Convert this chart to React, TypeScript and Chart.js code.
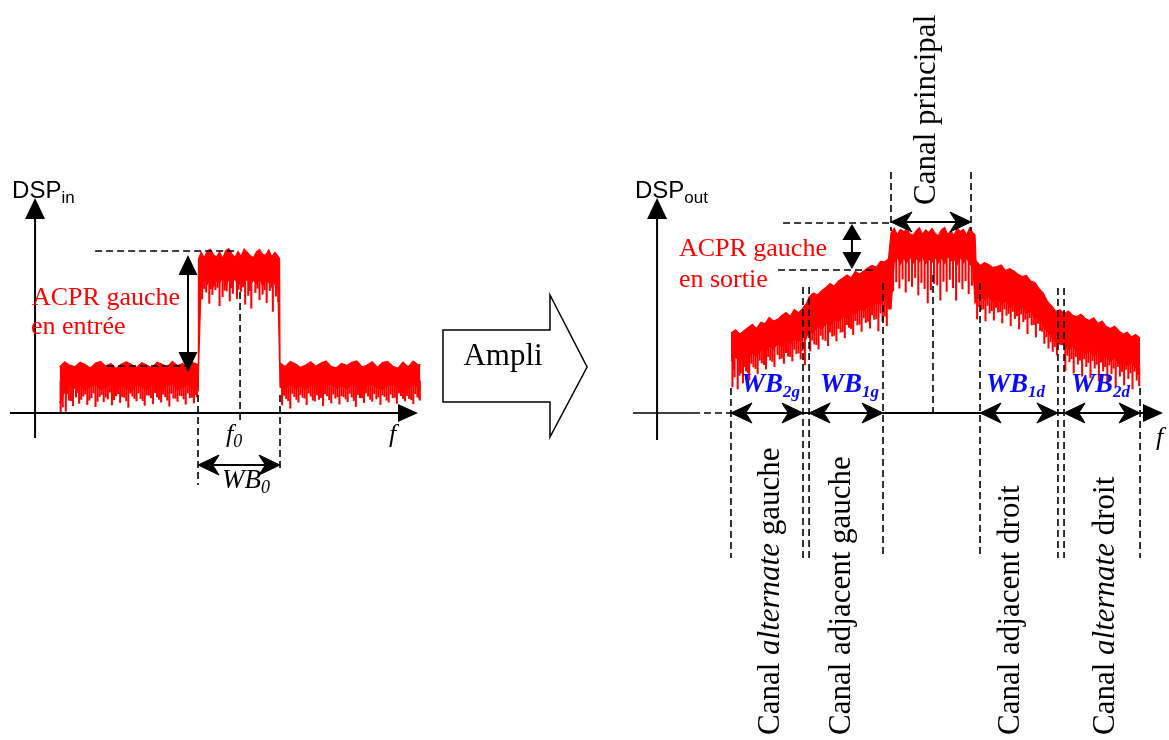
import React, { useEffect, useRef } from "react";
import { Chart, registerables } from "chart.js";

Chart.register(...registerables);

// ================= DATA =================
// Frequencies are offsets from f0 (arbitrary units, WB0 = main channel = 4 units).
// Levels are in dB (0 dB = top of the input channel). Each tuple: [f, upper edge, lower bulk edge].

// ---- Input PSD ----
const inFloorLeft: [number, number, number][] = [
  [-8.75, -28.5, -37.5], [-8.5, -27.2, -34.6], [-8.25, -28.1, -33.1], [-8.0, -28.4, -33.9],
  [-7.75, -27.3, -32.8], [-7.5, -27.9, -34.4], [-7.25, -28.8, -33.3], [-7.0, -27.5, -32.9],
  [-6.75, -27.1, -34.1], [-6.5, -28.3, -33.6], [-6.25, -27.6, -32.7], [-6.0, -28.9, -34.3],
  [-5.75, -27.8, -33.0], [-5.5, -27.2, -33.8], [-5.25, -27.9, -34.5], [-5.0, -28.6, -32.9],
  [-4.75, -27.4, -33.4], [-4.5, -28.0, -34.2], [-4.25, -28.7, -32.8], [-4.0, -27.3, -33.7],
  [-3.75, -27.8, -34.0], [-3.5, -28.5, -33.1], [-3.25, -27.1, -32.8], [-3.0, -28.2, -34.3],
  [-2.75, -27.6, -33.5], [-2.5, -28.8, -32.9], [-2.25, -27.4, -34.0], [-2.0, -27.9, -34.5],
];
const inChannel: [number, number, number][] = [
  [-1.98, -1.5, -30.0], [-1.85, 0.2, -8.0], [-1.7, -1.2, -6.5], [-1.55, 0.5, -7.8],
  [-1.4, 0.9, -6.2], [-1.25, -0.4, -8.4], [-1.1, -1.0, -6.8], [-0.95, 0.3, -7.5],
  [-0.8, -1.4, -6.0], [-0.65, 0.6, -8.0], [-0.5, 1.1, -6.6], [-0.35, -0.2, -7.9],
  [-0.2, -1.1, -6.3], [-0.05, 0.4, -8.2], [0.1, -0.9, -6.9], [0.25, 1.0, -7.6],
  [0.4, 0.2, -6.4], [0.55, -0.6, -8.1], [0.7, -1.2, -6.7], [0.85, 0.3, -7.7],
  [1.0, 0.9, -6.1], [1.15, -0.3, -8.3], [1.3, -0.6, -6.8], [1.45, 0.8, -7.4],
  [1.6, -1.0, -6.5], [1.75, 0.2, -7.9], [1.9, -0.8, -9.0], [1.98, -1.5, -28.0],
];
const inFloorRight: [number, number, number][] = [
  [2.0, -27.5, -33.5], [2.25, -28.4, -34.0], [2.5, -27.1, -32.8], [2.75, -27.7, -33.9],
  [3.0, -28.6, -33.1], [3.25, -28.0, -34.2], [3.5, -27.2, -32.9], [3.75, -28.3, -33.6],
  [4.0, -27.5, -34.3], [4.25, -27.0, -33.0], [4.5, -28.4, -32.7], [4.75, -28.7, -33.8],
  [5.0, -27.6, -33.2], [5.25, -28.1, -34.0], [5.5, -27.3, -32.9], [5.75, -27.0, -33.5],
  [6.0, -28.5, -34.1], [6.25, -28.0, -33.1], [6.5, -27.2, -32.8], [6.75, -28.6, -33.7],
  [7.0, -27.4, -34.2], [7.25, -27.1, -33.0], [7.5, -28.3, -32.9], [7.75, -28.8, -33.6],
  [8.0, -27.3, -33.2], [8.25, -28.5, -34.0], [8.5, -27.0, -33.0], [8.75, -28.0, -33.5],
  [8.85, -27.8, -33.8],
];
// Noise dips: [f, bottom of dip, top of dip]
const inDips: [number, number, number][] = [
  [-8.7, -40, -32], [-8.6, -38.5, -32], [-8.45, -39.6, -32], [-8.3, -36.8, -32], [-8.1, -38.2, -32],
  [-7.95, -36.0, -32], [-7.8, -37.6, -32], [-7.6, -35.8, -32], [-7.4, -37.9, -32], [-7.2, -36.2, -32],
  [-7.0, -38.4, -32], [-6.8, -35.9, -32], [-6.6, -37.2, -32], [-6.4, -36.5, -32], [-6.2, -38.0, -32],
  [-6.0, -35.7, -32], [-5.8, -37.4, -32], [-5.6, -36.1, -32], [-5.4, -38.6, -32], [-5.2, -35.8, -32],
  [-5.0, -37.0, -32], [-4.8, -36.4, -32], [-4.6, -38.1, -32], [-4.4, -35.6, -32], [-4.2, -37.7, -32],
  [-4.0, -36.0, -32], [-3.8, -37.3, -32], [-3.6, -35.9, -32], [-3.4, -38.3, -32], [-3.2, -36.3, -32],
  [-3.0, -37.1, -32], [-2.8, -35.7, -32], [-2.6, -37.8, -32], [-2.4, -36.2, -32], [-2.2, -37.5, -32],
  [-2.05, -36.0, -32],
  [-1.8, -11.5, -5], [-1.6, -9.8, -5], [-1.45, -12.6, -5], [-1.3, -10.4, -5], [-1.15, -9.2, -5],
  [-0.95, -13.2, -5], [-0.8, -10.9, -5], [-0.6, -9.5, -5], [-0.45, -12.0, -5], [-0.3, -10.1, -5],
  [-0.1, -11.4, -5], [0.1, -9.6, -5], [0.3, -12.8, -5], [0.45, -10.6, -5], [0.6, -13.8, -5],
  [0.8, -9.9, -5], [1.0, -11.7, -5], [1.15, -10.3, -5], [1.35, -12.4, -5], [1.5, -9.4, -5],
  [1.65, -14.6, -5], [1.8, -10.8, -5], [1.92, -12.2, -5],
  [2.1, -38.0, -32], [2.3, -36.4, -32], [2.5, -38.8, -32], [2.7, -35.9, -32], [2.9, -37.3, -32],
  [3.1, -36.1, -32], [3.3, -37.9, -32], [3.5, -35.8, -32], [3.7, -37.0, -32], [3.9, -36.6, -32],
  [4.1, -38.2, -32], [4.3, -35.7, -32], [4.5, -37.5, -32], [4.7, -36.3, -32], [4.9, -37.8, -32],
  [5.1, -35.9, -32], [5.3, -37.2, -32], [5.5, -36.0, -32], [5.7, -38.4, -32], [5.9, -36.2, -32],
  [6.1, -37.4, -32], [6.3, -35.8, -32], [6.5, -37.1, -32], [6.7, -36.5, -32], [6.9, -37.9, -32],
  [7.1, -35.9, -32], [7.3, -37.3, -32], [7.5, -36.2, -32], [7.7, -37.6, -32], [7.9, -35.7, -32],
  [8.1, -37.0, -32], [8.3, -36.4, -32], [8.5, -37.7, -32], [8.7, -36.0, -32], [8.82, -36.8, -32],
];
// Finer, shallower dips between the main ones
const inDipsFine: [number, number, number][] = [
  [-8.65, -36.0, -32], [-8.38, -35.2, -32], [-8.2, -36.9, -32], [-7.88, -34.9, -32], [-7.7, -36.6, -32],
  [-7.5, -35.3, -32], [-7.3, -36.8, -32], [-7.1, -35.0, -32], [-6.9, -37.1, -32], [-6.7, -35.4, -32],
  [-6.5, -36.0, -32], [-6.3, -34.8, -32], [-6.1, -36.7, -32], [-5.9, -35.2, -32], [-5.7, -35.9, -32],
  [-5.5, -37.0, -32], [-5.3, -35.1, -32], [-5.1, -36.4, -32], [-4.9, -35.0, -32], [-4.7, -36.9, -32],
  [-4.5, -35.5, -32], [-4.3, -36.2, -32], [-4.1, -34.9, -32], [-3.9, -36.6, -32], [-3.7, -35.3, -32],
  [-3.5, -36.8, -32], [-3.3, -35.1, -32], [-3.1, -36.3, -32], [-2.9, -35.6, -32], [-2.7, -36.5, -32],
  [-2.5, -35.0, -32], [-2.3, -36.1, -32], [-2.12, -35.4, -32],
  [-1.7, -8.9, -5], [-1.38, -9.0, -5], [-1.05, -8.6, -5], [-0.7, -9.3, -5], [-0.38, -8.7, -5],
  [-0.02, -9.1, -5], [0.2, -8.5, -5], [0.52, -9.4, -5], [0.9, -8.8, -5], [1.25, -9.2, -5], [1.58, -8.6, -5],
  [2.2, -35.6, -32], [2.4, -36.9, -32], [2.6, -35.1, -32], [2.8, -36.6, -32], [3.0, -35.4, -32],
  [3.2, -36.3, -32], [3.4, -35.0, -32], [3.6, -36.8, -32], [3.8, -35.5, -32], [4.0, -36.1, -32],
  [4.2, -35.2, -32], [4.4, -36.7, -32], [4.6, -35.3, -32], [4.8, -36.0, -32], [5.0, -35.7, -32],
  [5.2, -36.5, -32], [5.4, -35.1, -32], [5.6, -36.9, -32], [5.8, -35.4, -32], [6.0, -36.2, -32],
  [6.2, -35.0, -32], [6.4, -36.6, -32], [6.6, -35.2, -32], [6.8, -36.0, -32], [7.0, -35.5, -32],
  [7.2, -36.8, -32], [7.4, -35.3, -32], [7.6, -36.1, -32], [7.8, -35.0, -32], [8.0, -36.4, -32],
  [8.2, -35.6, -32], [8.4, -36.7, -32], [8.6, -35.2, -32], [8.78, -36.3, -32],
];

// ---- Output PSD ----
const outAltLeft: [number, number, number][] = [
  [-9.62, -20.0, -27.0], [-9.4, -19.2, -26.0], [-9.2, -20.3, -27.2], [-9.0, -19.4, -25.8],
  [-8.8, -18.6, -26.6], [-8.6, -17.8, -25.0], [-8.4, -18.9, -25.9], [-8.2, -17.3, -24.1],
  [-8.0, -17.7, -24.8], [-7.8, -16.1, -23.2], [-7.6, -17.0, -24.0], [-7.4, -16.6, -22.6],
  [-7.2, -15.6, -23.4], [-7.0, -14.9, -22.0], [-6.8, -15.8, -22.8], [-6.6, -14.1, -21.4],
  [-6.4, -15.0, -22.2], [-6.2, -13.8, -21.0], [-6.05, -12.8, -21.5],
];
const outAdjLeft: [number, number, number][] = [
  [-5.9, -11.0, -19.5], [-5.7, -10.0, -19.8], [-5.5, -10.5, -18.4], [-5.3, -9.4, -19.0],
  [-5.1, -8.6, -17.6], [-4.9, -7.6, -18.1], [-4.7, -8.3, -16.7], [-4.5, -7.0, -17.2],
  [-4.3, -6.3, -15.8], [-4.1, -5.5, -16.2], [-3.9, -6.2, -14.9], [-3.7, -4.6, -15.3],
  [-3.5, -5.3, -14.0], [-3.3, -4.5, -14.5], [-3.1, -3.7, -13.2], [-2.9, -3.1, -13.6],
  [-2.7, -3.6, -12.4], [-2.5, -2.1, -12.8], [-2.3, -2.2, -11.6], [-2.12, -1.5, -14.0],
];
const outMain: [number, number, number][] = [
  [-2.0, 5.0, -14.0], [-1.85, 6.2, -2.5], [-1.7, 4.6, -1.0], [-1.55, 5.9, -2.8],
  [-1.4, 5.3, -1.2], [-1.25, 6.0, -2.4], [-1.1, 4.8, -0.8], [-0.95, 4.4, -2.6],
  [-0.8, 5.6, -1.3], [-0.65, 6.3, -2.2], [-0.5, 4.7, -0.9], [-0.35, 5.8, -2.7],
  [-0.2, 5.1, -1.4], [-0.05, 6.1, -2.3], [0.1, 4.9, -1.0], [0.25, 4.3, -2.5],
  [0.4, 5.8, -1.1], [0.55, 6.4, -2.6], [0.7, 4.6, -0.7], [0.85, 5.5, -2.0],
  [1.0, 4.3, -1.5], [1.15, 6.2, -2.9], [1.3, 5.4, -1.0], [1.45, 5.9, -2.4],
  [1.6, 4.5, -1.2], [1.75, 6.3, -2.8], [1.9, 5.0, -3.5], [2.0, 4.6, -12.5],
];
const outAdjRight: [number, number, number][] = [
  [2.05, -2.0, -12.0], [2.25, -3.1, -10.6], [2.45, -2.4, -11.8], [2.65, -2.9, -10.9],
  [2.85, -3.6, -12.2], [3.05, -3.4, -11.4], [3.25, -3.0, -12.8], [3.45, -4.4, -12.0],
  [3.65, -3.9, -13.6], [3.85, -4.5, -12.7], [4.05, -5.3, -14.3], [4.25, -5.9, -13.5],
  [4.45, -5.6, -15.0], [4.65, -7.0, -14.6], [4.85, -7.4, -16.4], [5.05, -8.9, -16.0],
  [5.25, -10.0, -18.2], [5.45, -12.1, -19.4], [5.65, -13.2, -21.0], [5.85, -14.6, -22.2],
  [6.05, -14.2, -22.8],
];
const outAltRight: [number, number, number][] = [
  [6.25, -15.2, -23.0], [6.45, -14.5, -24.2], [6.65, -15.6, -23.4], [6.85, -15.9, -24.6],
  [7.05, -15.3, -24.0], [7.25, -16.4, -25.2], [7.45, -16.9, -24.4], [7.65, -16.2, -25.6],
  [7.85, -17.6, -25.0], [8.05, -17.0, -26.3], [8.25, -18.4, -25.7], [8.45, -18.9, -27.0],
  [8.65, -18.3, -26.2], [8.85, -19.4, -27.6], [9.05, -20.3, -27.0], [9.25, -19.8, -28.2],
  [9.45, -21.0, -27.5], [9.65, -20.4, -28.6], [9.86, -21.3, -29.5],
];
const outDips: [number, number, number][] = [
  [-9.55, -33.5, -26], [-9.45, -31.0, -26], [-9.3, -34.0, -26], [-9.15, -30.0, -26], [-9.05, -32.5, -25],
  [-8.9, -29.5, -25], [-8.75, -31.8, -25], [-8.55, -28.5, -24], [-8.35, -30.2, -24], [-8.15, -27.5, -23],
  [-7.95, -29.0, -23], [-7.75, -26.8, -22], [-7.55, -28.4, -22], [-7.3, -26.5, -22], [-7.1, -27.6, -21],
  [-6.9, -25.8, -21], [-6.7, -27.0, -21], [-6.5, -25.2, -20], [-6.3, -26.5, -20], [-6.1, -28.0, -20],
  [-5.85, -24.5, -18], [-5.65, -22.8, -18], [-5.45, -24.0, -17], [-5.25, -21.6, -17], [-5.0, -23.2, -16],
  [-4.8, -20.8, -16], [-4.6, -22.0, -15], [-4.4, -19.8, -15], [-4.2, -21.2, -14], [-4.0, -18.6, -14],
  [-3.8, -20.4, -13], [-3.6, -18.0, -13], [-3.4, -19.6, -12], [-3.2, -17.4, -12], [-3.0, -18.8, -11],
  [-2.8, -16.6, -11], [-2.6, -19.5, -11], [-2.4, -17.0, -10], [-2.2, -18.2, -10],
  [-1.9, -9.5, -1], [-1.75, -7.2, -1], [-1.6, -8.8, -1], [-1.45, -6.5, 0], [-1.3, -9.8, 0],
  [-1.15, -7.0, 0], [-1.0, -8.4, 0], [-0.85, -6.2, 0], [-0.7, -10.5, 0], [-0.55, -7.4, 0],
  [-0.4, -8.9, 0], [-0.25, -12.5, 0], [-0.1, -9.2, 0], [0.05, -7.6, 0], [0.2, -8.0, 0],
  [0.35, -11.8, 0], [0.5, -7.1, 0], [0.65, -9.6, 0], [0.8, -6.6, 0], [0.95, -8.7, 0],
  [1.1, -11.8, 0], [1.25, -7.3, 0], [1.4, -9.0, 0], [1.55, -6.9, 0], [1.7, -10.2, 0], [1.85, -8.1, -1],
  [2.1, -16.5, -10], [2.3, -14.2, -10], [2.5, -17.0, -10], [2.7, -15.0, -10], [2.9, -16.8, -11],
  [3.1, -14.8, -11], [3.3, -17.5, -11], [3.5, -15.6, -12], [3.7, -18.2, -12], [3.9, -16.4, -12],
  [4.1, -19.0, -13], [4.3, -17.2, -13], [4.5, -20.2, -14], [4.7, -18.0, -14], [4.9, -21.0, -15],
  [5.1, -19.4, -15], [5.3, -22.6, -17], [5.5, -23.8, -18], [5.7, -24.6, -20], [5.9, -25.5, -21],
  [6.3, -29.5, -22], [6.5, -27.2, -23], [6.7, -30.0, -23], [6.9, -27.8, -23], [7.1, -30.8, -23],
  [7.3, -28.4, -24], [7.5, -31.2, -24], [7.7, -28.8, -24], [7.9, -32.0, -25], [8.1, -29.5, -25],
  [8.3, -32.6, -25], [8.5, -30.2, -26], [8.7, -33.5, -26], [8.9, -30.8, -26], [9.1, -33.0, -26],
  [9.3, -31.4, -27], [9.5, -34.0, -27], [9.7, -31.8, -27], [9.82, -33.2, -28],
];
const outDipsFine: [number, number, number][] = [
  [-9.5, -29.0, -26], [-9.22, -30.6, -26], [-8.98, -28.4, -25], [-8.82, -29.9, -25], [-8.65, -27.6, -24],
  [-8.45, -28.9, -24], [-8.25, -26.8, -23], [-8.05, -27.9, -23], [-7.85, -25.9, -22], [-7.65, -27.1, -22],
  [-7.4, -25.4, -22], [-7.2, -26.3, -21], [-7.0, -24.9, -21], [-6.8, -25.9, -21], [-6.6, -24.1, -20],
  [-6.4, -25.0, -20], [-6.22, -24.4, -20],
  [-5.75, -21.8, -18], [-5.55, -22.9, -17], [-5.35, -20.6, -17], [-5.12, -21.9, -16], [-4.9, -19.8, -16],
  [-4.7, -20.6, -15], [-4.5, -18.9, -15], [-4.3, -19.7, -14], [-4.1, -17.9, -14], [-3.9, -18.9, -13],
  [-3.7, -16.9, -13], [-3.5, -17.8, -12], [-3.3, -16.2, -12], [-3.1, -17.1, -11], [-2.9, -15.5, -11],
  [-2.7, -16.4, -11], [-2.5, -15.0, -10], [-2.3, -15.8, -10],
  [2.2, -13.4, -10], [2.4, -14.0, -10], [2.6, -13.1, -10], [2.8, -14.4, -11], [3.0, -13.6, -11],
  [3.2, -14.7, -11], [3.4, -14.0, -12], [3.6, -15.1, -12], [3.8, -14.6, -12], [4.0, -15.7, -13],
  [4.2, -15.3, -13], [4.4, -16.6, -14], [4.6, -16.2, -14], [4.8, -17.9, -15], [5.0, -17.6, -15],
  [5.2, -19.6, -17], [5.4, -21.0, -18], [5.6, -22.2, -20], [5.8, -23.4, -21],
  [6.4, -25.6, -22], [6.6, -26.4, -23], [6.8, -25.9, -23], [7.0, -26.8, -23], [7.2, -26.5, -24],
  [7.4, -27.4, -24], [7.6, -26.9, -24], [7.8, -27.8, -25], [8.0, -27.3, -25], [8.2, -28.4, -25],
  [8.4, -28.0, -26], [8.6, -28.8, -26], [8.8, -28.4, -26], [9.0, -29.6, -26], [9.2, -29.1, -27],
  [9.4, -30.0, -27], [9.6, -29.6, -27], [9.76, -30.4, -28],
];

// Axis ranges (data units)
const IN_F_RANGE = [-11.66, 17.61];
const OUT_F_RANGE = [-15.857, 11.238];
const DB_RANGE = [-121.75, 63.25];

// ================= ANNOTATIONS (data units) =================
const IN_AXIS = { f: -9.95, dbFrom: -46.25, dbTip: 13.75, db: -40, fFrom: -11.17, fTip: 8.73 };
const IN_ACPR = { f: -2.49, dbTop: -0.5, dbBottom: -29.75, top: [0.5, -7.02, -0.05], bottom: [-28.25, -6.44, -2.39] };
const IN_MARKERS = [[-2.0, -35.5, -58], [0.05, -9.75, -41.75], [2.0, -35.5, -54.25]];
const IN_WB0 = { db: -53, from: -2, to: 2 };
const AMPLI = { x0: 9.95, x1: 15.17, tip: 16.98, bodyTop: -19.25, bodyBot: -37.25, headTop: -10.5, headBot: -46, mid: -28.5, labelF: 12.88, labelDb: -28 };

const OUT_AXIS = { f: -13.14, dbFrom: -46.75, dbTip: 13.75, db: -40, fFrom: -14.29, dashFrom: -11.43, dashTo: -9.62, fTip: 10.95 };
const MAIN_CH = { left: -2.0, right: 1.81, dbTop: 20.25, dbBottom: 5.5, arrowDb: 7.75 };
const OUT_ACPR = { f: -3.86, tipTop: 7.25, tipBottom: -4.0, top: [7.5, -7.14, -2.0], bottom: [-4.25, -7.38, -2.67] };
const OUT_MARKERS = [
  [-9.62, -33.75, -76.25], [-6.19, -8.5, -76.25], [-5.9, -8.5, -76.25], [-2.38, -7.5, -75.5],
  [0, -5.5, -41.25], [2.24, -7.5, -75.5], [5.95, -8.75, -76.25], [6.24, -8.75, -76.25], [9.86, -33.75, -76.25],
];
const OUT_BANDS = [
  { from: -9.62, to: -6.19, sub: "2g", lf: -9.14 },
  { from: -5.9, to: -2.38, sub: "1g", lf: -5.38 },
  { from: 2.24, to: 5.95, sub: "1d", lf: 2.52 },
  { from: 6.24, to: 9.86, sub: "2d", lf: 6.57 },
];
const WB_DB = -34.75;
const CHANNEL_LABELS: { f: number; parts: [string, boolean][] }[] = [
  { f: -7.33, parts: [["Canal ", false], ["alternate", true], [" gauche", false]] },
  { f: -3.95, parts: [["Canal adjacent gauche", false]] },
  { f: 4.1, parts: [["Canal adjacent droit", false]] },
  { f: 8.62, parts: [["Canal ", false], ["alternate", true], [" droit", false]] },
];
const CHANNEL_LABEL_DB = -120.5;
const MAIN_LABEL = { f: 0.1, db: 12 };

// ================= DRAW HELPERS =================
const SERIF = '"Liberation Serif","Times New Roman",serif';
const SANS = '"Liberation Sans",Arial,sans-serif';
const DASH = [7, 4];
const RED = "#ff0000";
const BLUE = "#0a0aff";

type Run = { t: string; font: string; dy?: number; color?: string };

function drawRuns(ctx: CanvasRenderingContext2D, x: number, y: number, list: Run[], align = "left") {
  ctx.textAlign = "left";
  ctx.textBaseline = "alphabetic";
  let total = 0;
  for (const r of list) {
    ctx.font = r.font;
    total += ctx.measureText(r.t).width;
  }
  let cx = align === "center" ? x - total / 2 : x;
  for (const r of list) {
    ctx.font = r.font;
    ctx.fillStyle = r.color || "#000";
    ctx.fillText(r.t, cx, y + (r.dy || 0));
    cx += ctx.measureText(r.t).width;
  }
}

function seg(ctx: CanvasRenderingContext2D, x1: number, y1: number, x2: number, y2: number, w = 2, dash: number[] = []) {
  ctx.save();
  ctx.lineWidth = w;
  ctx.setLineDash(dash);
  ctx.strokeStyle = "#000";
  ctx.beginPath();
  ctx.moveTo(x1, y1);
  ctx.lineTo(x2, y2);
  ctx.stroke();
  ctx.restore();
}

function tri(ctx: CanvasRenderingContext2D, tx: number, ty: number, dx: number, dy: number, len: number, half: number) {
  const bx = tx - dx * len, by = ty - dy * len;
  ctx.fillStyle = "#000";
  ctx.beginPath();
  ctx.moveTo(tx, ty);
  ctx.lineTo(bx - dy * half, by + dx * half);
  ctx.lineTo(bx + dy * half, by - dx * half);
  ctx.closePath();
  ctx.fill();
}

function stealth(ctx: CanvasRenderingContext2D, tx: number, ty: number, dx: number, dy: number, len = 21, half = 10) {
  const bx = tx - dx * len, by = ty - dy * len;
  const nx = tx - dx * len * 0.68, ny = ty - dy * len * 0.68;
  ctx.fillStyle = "#000";
  ctx.beginPath();
  ctx.moveTo(tx, ty);
  ctx.lineTo(bx - dy * half, by + dx * half);
  ctx.quadraticCurveTo(tx - dx * len * 0.72, ty - dy * len * 0.72, nx, ny);
  ctx.quadraticCurveTo(tx - dx * len * 0.72, ty - dy * len * 0.72, bx + dy * half, by - dx * half);
  ctx.closePath();
  ctx.fill();
  ctx.lineWidth = 1;
  ctx.strokeStyle = "#000";
  ctx.stroke();
}

function dblArrowH(ctx: CanvasRenderingContext2D, x1: number, x2: number, y: number) {
  seg(ctx, x1 + 8, y, x2 - 8, y, 2.2);
  stealth(ctx, x1, y, -1, 0);
  stealth(ctx, x2, y, 1, 0);
}

type Px = (v: number) => number;

function drawInput(ctx: CanvasRenderingContext2D, X: Px, Y: Px) {
  ctx.save();
  const ax = X(IN_AXIS.f), tipY = Y(IN_AXIS.dbTip);
  seg(ctx, ax, Y(IN_AXIS.dbFrom), ax, tipY + 18, 2);
  tri(ctx, ax, tipY, 0, -1, 21, 10);
  const ay = Y(IN_AXIS.db), tipX = X(IN_AXIS.fTip);
  seg(ctx, X(IN_AXIS.fFrom), ay, tipX - 18, ay, 2);
  tri(ctx, tipX, ay, 1, 0, 20, 9);
  seg(ctx, X(IN_ACPR.top[1]), Y(IN_ACPR.top[0]), X(IN_ACPR.top[2]), Y(IN_ACPR.top[0]), 1.6, DASH);
  seg(ctx, X(IN_ACPR.bottom[1]), Y(IN_ACPR.bottom[0]), X(IN_ACPR.bottom[2]), Y(IN_ACPR.bottom[0]), 1.6, DASH);
  const acx = X(IN_ACPR.f), at = Y(IN_ACPR.dbTop), ab = Y(IN_ACPR.dbBottom);
  seg(ctx, acx, at + 15, acx, ab - 15, 2);
  tri(ctx, acx, at, 0, -1, 20, 9.5);
  tri(ctx, acx, ab, 0, 1, 20, 9.5);
  for (const [f, a, b] of IN_MARKERS) seg(ctx, X(f), Y(a), X(f), Y(b), 1.6, DASH);
  dblArrowH(ctx, X(IN_WB0.from), X(IN_WB0.to), Y(IN_WB0.db));
  drawRuns(ctx, X(-11.07), Y(13.75), [
    { t: "DSP", font: `24px ${SANS}` },
    { t: "in", font: `17px ${SANS}`, dy: 5 },
  ]);
  drawRuns(ctx, X(-10.1), Y(-13), [{ t: "ACPR gauche", font: `26px ${SERIF}`, color: RED }]);
  drawRuns(ctx, X(-10.15), Y(-20.25), [{ t: "en entrée", font: `26px ${SERIF}`, color: RED }]);
  drawRuns(ctx, X(-0.63), Y(-47.25), [
    { t: "f", font: `italic 26px ${SERIF}` },
    { t: "0", font: `italic 18px ${SERIF}`, dy: 5 },
  ]);
  drawRuns(ctx, X(7.32), Y(-47.25), [{ t: "f", font: `italic 26px ${SERIF}` }]);
  drawRuns(ctx, X(-0.83), Y(-58.75), [
    { t: "WB", font: `italic 27px ${SERIF}` },
    { t: "0", font: `italic 18px ${SERIF}`, dy: 5 },
  ]);
  ctx.beginPath();
  ctx.moveTo(X(AMPLI.x0), Y(AMPLI.bodyTop));
  ctx.lineTo(X(AMPLI.x1), Y(AMPLI.bodyTop));
  ctx.lineTo(X(AMPLI.x1), Y(AMPLI.headTop));
  ctx.lineTo(X(AMPLI.tip), Y(AMPLI.mid));
  ctx.lineTo(X(AMPLI.x1), Y(AMPLI.headBot));
  ctx.lineTo(X(AMPLI.x1), Y(AMPLI.bodyBot));
  ctx.lineTo(X(AMPLI.x0), Y(AMPLI.bodyBot));
  ctx.closePath();
  ctx.fillStyle = "#fff";
  ctx.fill();
  ctx.lineWidth = 1.5;
  ctx.strokeStyle = "#000";
  ctx.stroke();
  drawRuns(ctx, X(AMPLI.labelF), Y(AMPLI.labelDb), [{ t: "Ampli", font: `31px ${SERIF}` }], "center");
  ctx.restore();
}

function drawOutput(ctx: CanvasRenderingContext2D, X: Px, Y: Px) {
  ctx.save();
  const ax = X(OUT_AXIS.f), tipY = Y(OUT_AXIS.dbTip);
  seg(ctx, ax, Y(OUT_AXIS.dbFrom), ax, tipY + 18, 2);
  tri(ctx, ax, tipY, 0, -1, 21, 10);
  const ay = Y(OUT_AXIS.db), tipX = X(OUT_AXIS.fTip);
  seg(ctx, X(OUT_AXIS.fFrom), ay, X(OUT_AXIS.dashFrom), ay, 1.6);
  seg(ctx, X(OUT_AXIS.dashFrom), ay, X(OUT_AXIS.dashTo), ay, 1.6, DASH);
  seg(ctx, X(OUT_AXIS.dashTo), ay, tipX - 18, ay, 2.2);
  tri(ctx, tipX, ay, 1, 0, 20, 9);
  seg(ctx, X(MAIN_CH.left), Y(MAIN_CH.dbTop), X(MAIN_CH.left), Y(MAIN_CH.dbBottom), 1.6, DASH);
  seg(ctx, X(MAIN_CH.right), Y(MAIN_CH.dbTop), X(MAIN_CH.right), Y(MAIN_CH.dbBottom), 1.6, DASH);
  dblArrowH(ctx, X(MAIN_CH.left), X(MAIN_CH.right), Y(MAIN_CH.arrowDb));
  seg(ctx, X(OUT_ACPR.top[1]), Y(OUT_ACPR.top[0]), X(OUT_ACPR.top[2]), Y(OUT_ACPR.top[0]), 1.6, DASH);
  seg(ctx, X(OUT_ACPR.bottom[1]), Y(OUT_ACPR.bottom[0]), X(OUT_ACPR.bottom[2]), Y(OUT_ACPR.bottom[0]), 1.6, DASH);
  const acx = X(OUT_ACPR.f), at = Y(OUT_ACPR.tipTop), ab = Y(OUT_ACPR.tipBottom);
  seg(ctx, acx, at + 14, acx, ab - 14, 2);
  tri(ctx, acx, at, 0, -1, 16, 9.5);
  tri(ctx, acx, ab, 0, 1, 17, 9.5);
  for (const [f, a, b] of OUT_MARKERS) seg(ctx, X(f), Y(a), X(f), Y(b), 1.6, DASH);
  for (const b of OUT_BANDS) {
    dblArrowH(ctx, X(b.from), X(b.to), ay);
    drawRuns(ctx, X(b.lf), Y(WB_DB), [
      { t: "WB", font: `italic bold 27px ${SERIF}`, color: BLUE },
      { t: b.sub, font: `italic bold 17px ${SERIF}`, color: BLUE, dy: 5 },
    ]);
  }
  drawRuns(ctx, X(-14.19), Y(13.75), [
    { t: "DSP", font: `24px ${SANS}` },
    { t: "out", font: `17px ${SANS}`, dy: 5 },
  ]);
  drawRuns(ctx, X(-12.1), Y(-0.75), [{ t: "ACPR gauche", font: `26px ${SERIF}`, color: RED }]);
  drawRuns(ctx, X(-12.1), Y(-8.5), [{ t: "en sortie", font: `26px ${SERIF}`, color: RED }]);
  drawRuns(ctx, X(10.62), Y(-48), [{ t: "f", font: `italic 26px ${SERIF}` }]);
  const rot = (f: number, db: number, list: Run[]) => {
    ctx.save();
    ctx.translate(X(f), Y(db));
    ctx.rotate(-Math.PI / 2);
    drawRuns(ctx, 0, 0, list);
    ctx.restore();
  };
  rot(MAIN_LABEL.f, MAIN_LABEL.db, [{ t: "Canal principal", font: `31px ${SERIF}` }]);
  for (const c of CHANNEL_LABELS) {
    rot(c.f, CHANNEL_LABEL_DB, c.parts.map(([t, it]) => ({ t, font: `${it ? "italic " : ""}31px ${SERIF}` })));
  }
  ctx.restore();
}

function makeConfig(
  spec: [number, number, number][],
  dips: [number, number, number][],
  fRange: number[],
  draw: (c: CanvasRenderingContext2D, X: Px, Y: Px) => void
): any {
  return {
    type: "line",
    data: {
      datasets: [
        {
          type: "line",
          data: spec.map(([f, t]) => ({ x: f, y: t })),
          borderColor: RED,
          borderWidth: 1.2,
          pointRadius: 0,
          tension: 0,
          fill: false,
          order: 2,
        },
        {
          type: "line",
          data: spec.map(([f, , b]) => ({ x: f, y: b })),
          borderColor: RED,
          borderWidth: 1.2,
          backgroundColor: RED,
          pointRadius: 0,
          tension: 0,
          fill: "-1",
          order: 2,
        },
        {
          type: "bar",
          data: dips.map(([f, lo, hi]) => ({ x: f, y: [lo, hi] })),
          backgroundColor: RED,
          borderWidth: 0,
          barThickness: 1.4,
          order: 1,
        },
      ],
    },
    options: {
      animation: false,
      responsive: false,
      events: [],
      layout: { padding: 0 },
      plugins: { legend: { display: false }, tooltip: { enabled: false }, title: { display: false } },
      scales: {
        x: { type: "linear", min: fRange[0], max: fRange[1], display: false, offset: false },
        y: { type: "linear", min: DB_RANGE[0], max: DB_RANGE[1], display: false },
      },
    },
    plugins: [
      {
        id: "annot",
        afterDatasetsDraw(chart: any) {
          const X = (v: number) => chart.scales.x.getPixelForValue(v);
          const Y = (v: number) => chart.scales.y.getPixelForValue(v);
          draw(chart.ctx, X, Y);
        },
      },
    ],
  };
}

export default function App() {
  const leftRef = useRef<HTMLCanvasElement>(null);
  const rightRef = useRef<HTMLCanvasElement>(null);
  useEffect(() => {
    const inSpec = [...inFloorLeft, ...inChannel, ...inFloorRight];
    const outSpec = [...outAltLeft, ...outAdjLeft, ...outMain, ...outAdjRight, ...outAltRight];
    const inAllDips = [...inDips, ...inDipsFine].sort((a, b) => a[0] - b[0]);
    const outAllDips = [...outDips, ...outDipsFine].sort((a, b) => a[0] - b[0]);
    const c1 = new Chart(leftRef.current!, makeConfig(inSpec, inAllDips, IN_F_RANGE, drawInput));
    const c2 = new Chart(rightRef.current!, makeConfig(outSpec, outAllDips, OUT_F_RANGE, drawOutput));
    return () => {
      c1.destroy();
      c2.destroy();
    };
  }, []);
  return (
    <div style={{ position: "absolute", left: 0, top: 0, width: 1169, height: 740, background: "#fff", overflow: "hidden" }}>
      <canvas ref={leftRef} width={600} height={740} style={{ position: "absolute", left: 0, top: 0, display: "block" }} />
      <canvas ref={rightRef} width={569} height={740} style={{ position: "absolute", left: 600, top: 0, display: "block" }} />
    </div>
  );
}
